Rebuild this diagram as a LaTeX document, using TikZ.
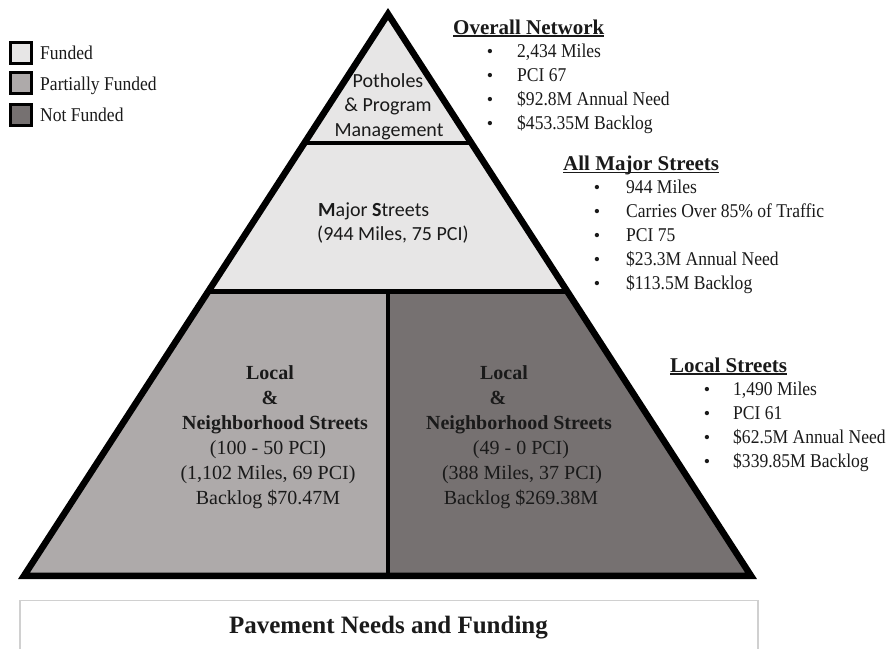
\documentclass[tikz,border=0pt]{standalone}
\usepackage{fontspec}
\setmainfont{Liberation Serif}
\newfontfamily\calfont{Carlito}
\newfontfamily\narrowfont{Liberation Serif}[FakeStretch=0.9]
\usetikzlibrary{calc}
\definecolor{fundc}{HTML}{E7E6E6}
\definecolor{partc}{HTML}{AEAAAA}
\definecolor{notc}{HTML}{767171}
\definecolor{framec}{HTML}{D0D0D0}
\definecolor{inkc}{HTML}{1A1A1A}
\begin{document}
\begin{tikzpicture}[x=1pt, y=-1pt,
  outline/.style={line width=6.5pt, line join=miter, miter limit=10},
  sepline/.style={line width=4.5pt},
  divline/.style={line width=3.5pt},
  legbox/.style={draw=black, line width=3pt, minimum width=21pt, minimum height=21pt, inner sep=0pt},
  legtxt/.style={anchor=base west, inner sep=0pt, text=inkc, font=\narrowfont\fontsize{19.5}{22}\selectfont},
  headtxt/.style={anchor=base west, inner sep=0pt, text=inkc, font=\bfseries\fontsize{21}{24}\selectfont},
  uline/.style={line width=1.4pt, inkc},
  itemtxt/.style={anchor=base west, inner sep=0pt, text=inkc, font=\narrowfont\fontsize{19.5}{22}\selectfont},
  bullet/.style={anchor=base, inner sep=0pt, text=inkc, font=\fontsize{18}{20}\selectfont},
  caltxt/.style={anchor=base, inner sep=0pt, text=inkc, font=\calfont\fontsize{20}{24}\selectfont},
  calleft/.style={anchor=base west, inner sep=0pt, text=inkc, font=\calfont\fontsize{20}{24}\selectfont},
  locb/.style={anchor=base, inner sep=0pt, text=inkc, font=\bfseries\fontsize{20}{24}\selectfont},
  locr/.style={anchor=base, inner sep=0pt, text=inkc, font=\fontsize{20}{24}\selectfont},
  titletxt/.style={anchor=base, inner sep=0pt, text=inkc, font=\bfseries\fontsize{25}{28}\selectfont}]
\useasboundingbox (0,0) rectangle (888,648);

% pyramid geometry
\coordinate (A) at (388,14);
\coordinate (BL) at (24,575.75);
\coordinate (BR) at (751,575.75);
\coordinate (L1) at ($(A)!0.2296!(BL)$);
\coordinate (R1) at ($(A)!0.2296!(BR)$);
\coordinate (L2) at ($(A)!0.494!(BL)$);
\coordinate (R2) at ($(A)!0.494!(BR)$);
\coordinate (M2) at (388,291.5);
\coordinate (MB) at (388,575.75);

\fill[fundc] (A) -- (L2) -- (R2) -- cycle;
\fill[partc] (L2) -- (M2) -- (MB) -- (BL) -- cycle;
\fill[notc] (M2) -- (R2) -- (BR) -- (MB) -- cycle;
\draw[sepline] (L1) -- (R1);
\draw[sepline] (L2) -- (R2);
\draw[divline] (M2) -- (MB);
\draw[outline] (A) -- (BL) -- (BR) -- cycle;

% legend
\node[legbox, fill=fundc] (lb1) at (21,53) {};
\node[legbox, fill=partc] (lb2) at (21,83) {};
\node[legbox, fill=notc] (lb3) at (21,114.5) {};
\node[legtxt] (lt1) at (40,59) {Funded};
\node[legtxt] (lt2) at (40,90) {Partially Funded};
\node[legtxt] (lt3) at (40,121.5) {Not Funded};

% pyramid texts
\node[caltxt] (p1) at (388,87) {Potholes};
\node[caltxt] (p2) at (388,111.5) {\&\ Program};
\node[caltxt] (p3) at (389,136) {Management};
\node[calleft] (m1) at (318,216) {\textbf{M}ajor \textbf{S}treets};
\node[calleft] (m2) at (317,240.5) {(944 Miles, 75 PCI)};

\node[locb] (a1) at (270,379) {Local};
\node[locb] (a2) at (270,404) {\&};
\node[locb] (a3) at (275,429) {Neighborhood Streets};
\node[locr] (a4) at (268,454) {(100 - 50 PCI)};
\node[locr] (a5) at (268,479) {(1,102 Miles, 69 PCI)};
\node[locr] (a6) at (268,504) {Backlog \$70.47M};

\node[locb] (b1) at (504,379) {Local};
\node[locb] (b2) at (498,404) {\&};
\node[locb] (b3) at (519,429) {Neighborhood Streets};
\node[locr] (b4) at (521,454) {(49 - 0 PCI)};
\node[locr] (b5) at (522,479) {(388 Miles, 37 PCI)};
\node[locr] (b6) at (521,504) {Backlog \$269.38M};

% Overall network
\node[headtxt] (h1) at (453,34) {Overall Network};
\draw[uline] ([yshift=-2pt]h1.base west) -- ([yshift=-2pt]h1.base east);
\foreach \t [count=\i] in {{2,434 Miles},{PCI 67},{\$92.8M Annual Need},{\$453.35M Backlog}}{
  \node[bullet] (ob\i) at (490,33+24*\i) {\textbullet};
  \node[itemtxt] (oi\i) at (517,33+24*\i) {\t};
}

% All major streets
\node[headtxt] (h2) at (563,170) {All Major Streets};
\draw[uline] ([yshift=-2.5pt]h2.base west) -- ([yshift=-2.5pt]h2.base east);
\foreach \t [count=\i] in {{944 Miles},{Carries Over 85\% of Traffic},{PCI 75},{\$23.3M Annual Need},{\$113.5M Backlog}}{
  \node[bullet] (mb\i) at (597,169+24*\i) {\textbullet};
  \node[itemtxt] (mi\i) at (626,169+24*\i) {\t};
}

% Local streets
\node[headtxt] (h3) at (670,372) {Local Streets};
\draw[uline] ([yshift=-2pt]h3.base west) -- ([yshift=-2pt]h3.base east);
\foreach \t [count=\i] in {{1,490 Miles},{PCI 61},{\$62.5M Annual Need},{\$339.85M Backlog}}{
  \node[bullet] (lb\i x) at (707,371+24*\i) {\textbullet};
  \node[itemtxt] (li\i) at (733,371+24*\i) {\t};
}

% title box
\draw[framec, line width=1.2pt] (20,650) -- (20,600.5) -- (758,600.5) -- (758,650);
\node[titletxt] (title) at (388.5,633) {Pavement Needs and Funding};
\end{tikzpicture}
\end{document}
